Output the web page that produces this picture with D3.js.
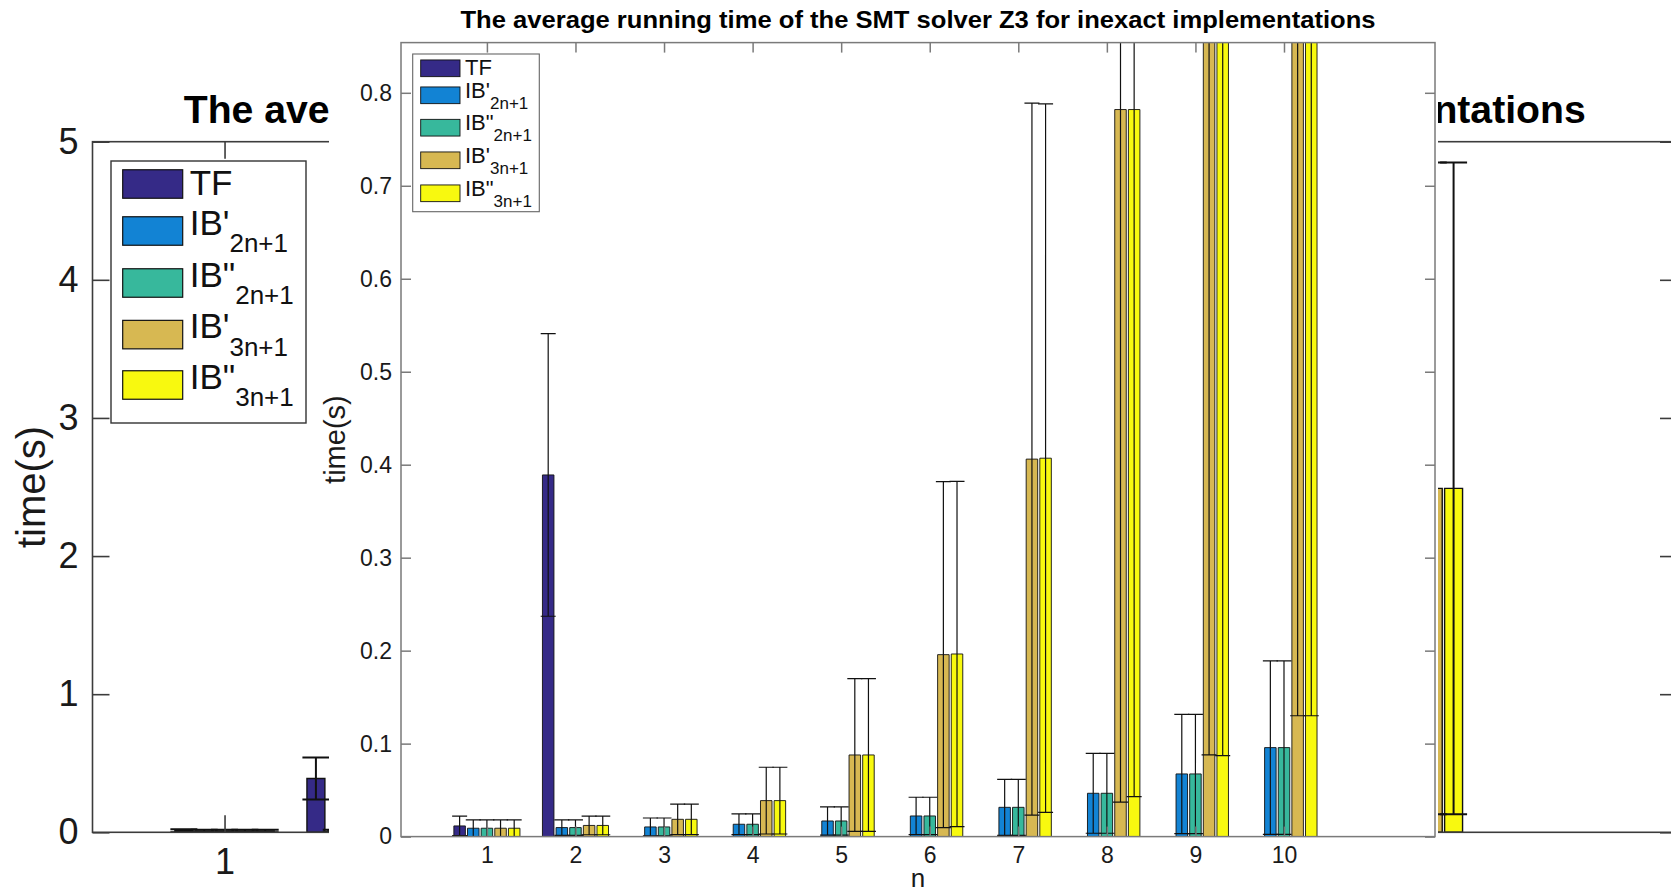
<!DOCTYPE html>
<html>
<head>
<meta charset="utf-8">
<script src="https://cdn.jsdelivr.net/npm/d3@7"></script>
<style>
  html, body { margin: 0; padding: 0; background: #ffffff; }
  svg { display: block; }
</style>
</head>
<body>
<svg id="fig" width="1671" height="892"></svg>
<script>
// ---- data -------------------------------------------------------------
const nValues = [1, 2, 3, 4, 5, 6, 7, 8, 9, 10];
const xTickLabels = ["1", "2", "3", "4", "5", "6", "7", "8", "9", "10"];

const legendMain = ["TF", "IB'", "IB\"", "IB'", "IB\""];
const legendSub  = ["", "2n+1", "2n+1", "3n+1", "3n+1"];
const seriesColors = ["#352a87", "#1283d4", "#37b89c", "#d7b852", "#f8f90f"];

// mean running time (s) and error (s) per n
const meanTF    = [0.0115, 0.389, 0, 0, 0, 0, 0, 0, 0, 0];
const errTF     = [0.0105, 0.152, 0, 0, 0, 0, 0, 0, 0, 0];
const meanIB1_2 = [0.009, 0.0097, 0.0104, 0.0133, 0.0168, 0.0222, 0.0315, 0.0466, 0.0674, 0.0957];
const errIB1_2  = [0.009, 0.0083, 0.0096, 0.0111, 0.0152, 0.0201, 0.0301, 0.0430, 0.0641, 0.0932];
const meanIB2_2 = [0.009, 0.0097, 0.0104, 0.0133, 0.0168, 0.0222, 0.0315, 0.0466, 0.0674, 0.0957];
const errIB2_2  = [0.009, 0.0083, 0.0096, 0.0111, 0.0152, 0.0201, 0.0301, 0.0430, 0.0641, 0.0932];
const meanIB1_3 = [0.009, 0.012, 0.0186, 0.0387, 0.0878, 0.1957, 0.406, 0.782, 1.45, 2.49];
const errIB1_3  = [0.009, 0.010, 0.0164, 0.0359, 0.0822, 0.1860, 0.383, 0.745, 1.362, 2.36];
const meanIB2_3 = [0.009, 0.012, 0.0186, 0.0387, 0.0878, 0.1964, 0.407, 0.782, 1.45, 2.49];
const errIB2_3  = [0.009, 0.010, 0.0164, 0.0359, 0.0822, 0.1856, 0.381, 0.739, 1.363, 2.36];

const seriesMeans = [meanTF, meanIB1_2, meanIB2_2, meanIB1_3, meanIB2_3];
const seriesErrs  = [errTF, errIB1_2, errIB2_2, errIB1_3, errIB2_3];

const titleText = "The average running time of the SMT solver Z3 for inexact implementations";
const yTicksFull = [0, 1, 2, 3, 4, 5];
const yTicksZoom = [0, 0.1, 0.2, 0.3, 0.4, 0.5, 0.6, 0.7, 0.8];

// ---- drawing ----------------------------------------------------------
const FONT = "'Liberation Sans', Arial, Helvetica, sans-serif";
const svg = d3.select("#fig");

// horizontal extent of the white sheet holding the zoomed panel
const sheet = { x0: 329, x1: 1438 };

function drawPanel(root, c) {
  const x = d3.scaleLinear().domain(c.xDomain).range([c.left, c.right]);
  const y = d3.scaleLinear().domain(c.yDomain).range([c.bottom, c.top]);
  const g = root.append("g");

  const clipId = "clip-" + c.id;
  g.append("clipPath").attr("id", clipId)
    .append("rect").attr("x", c.left).attr("y", c.top)
    .attr("width", c.right - c.left).attr("height", c.bottom - c.top);

  const plot = g.append("g").attr("clip-path", `url(#${clipId})`);
  const step = 0.154;          // offset between bars of one group (x units)
  const barW = c.barWidth;     // bar width (x units)

  // bars
  seriesMeans.forEach((means, s) => {
    const off = (s - 2) * step;
    plot.append("g").selectAll("path")
      .data(nValues.map((n, i) => ({ n, v: means[i] })))
      .join("path")
      .attr("d", d => {
        const x0 = x(d.n + off - barW / 2), x1 = x(d.n + off + barW / 2);
        const y0 = y(0), y1 = y(d.v);
        return `M${x0},${y0}H${x1}V${y1}H${x0}Z`;
      })
      .attr("fill", seriesColors[s])
      .attr("stroke", "#111")
      .attr("stroke-width", c.barStroke);
  });

  // error bars
  seriesMeans.forEach((means, s) => {
    const off = (s - 2) * step;
    const errs = seriesErrs[s];
    const eg = plot.append("g").attr("stroke", "#111").attr("stroke-width", c.errStroke).attr("fill", "none");
    eg.selectAll("path")
      .data(nValues.map((n, i) => ({ n, v: means[i], e: errs[i] })))
      .join("path")
      .attr("d", d => {
        const cx = x(d.n + off);
        const lo = y(d.v - d.e), hi = y(d.v + d.e);
        const h = c.capHalf;
        return `M${cx},${lo}V${hi}M${cx - h},${hi}H${cx + h}M${cx - h},${lo}H${cx + h}`;
      });
  });

  // axes box
  g.append("rect")
    .attr("x", c.left).attr("y", c.top)
    .attr("width", c.right - c.left).attr("height", c.bottom - c.top)
    .attr("fill", "none").attr("stroke", c.axisColor).attr("stroke-width", c.axisStroke);

  const styleAxis = sel => {
    sel.select(".domain").remove();
    sel.selectAll(".tick line").attr("stroke", c.axisColor).attr("stroke-width", c.axisStroke);
    sel.selectAll(".tick text").attr("fill", "#1a1a1a")
      .attr("font-family", FONT).attr("font-size", c.tickFont);
  };

  g.append("g").attr("transform", `translate(${c.left},0)`)
    .call(d3.axisLeft(y).tickValues(c.yTicks).tickSize(-c.tickLen).tickPadding(c.yPad).tickFormat(c.yFormat))
    .call(styleAxis);
  g.append("g").attr("transform", `translate(${c.right},0)`)
    .call(d3.axisRight(y).tickValues(c.yTicks).tickSize(-c.tickLen).tickFormat(""))
    .call(styleAxis);
  // bottom tick labels; labels that sit under the zoomed sheet are left blank
  g.append("g").attr("transform", `translate(0,${c.bottom})`)
    .call(d3.axisBottom(x).tickValues(nValues).tickSize(-c.tickLen).tickPadding(c.xPad)
      .tickFormat((d, i) => (c.hideUnderSheet && x(d) > sheet.x0 && x(d) < sheet.x1) ? "" : xTickLabels[i]))
    .call(styleAxis);
  g.append("g").attr("transform", `translate(0,${c.top})`)
    .call(d3.axisTop(x).tickValues(nValues).tickSize(-c.tickLen).tickFormat(""))
    .call(styleAxis);

  // title
  g.append("text")
    .attr("x", (c.left + c.right) / 2).attr("y", c.titleY)
    .attr("text-anchor", "middle")
    .attr("font-family", FONT).attr("font-weight", "bold")
    .attr("font-size", c.titleFont).attr("fill", "#000")
    .attr("textLength", c.titleLen).attr("lengthAdjust", "spacingAndGlyphs")
    .text(titleText);

  // y label
  g.append("text")
    .attr("transform", `translate(${c.yLabelX},${(c.top + c.bottom) / 2}) rotate(-90)`)
    .attr("text-anchor", "middle")
    .attr("font-family", FONT).attr("font-size", c.yLabelFont).attr("fill", "#1a1a1a")
    .text("time(s)");

  // x label
  if (c.xLabel) {
    g.append("text")
      .attr("x", (c.left + c.right) / 2).attr("y", c.xLabelY)
      .attr("text-anchor", "middle")
      .attr("font-family", FONT).attr("font-size", c.xLabelFont).attr("fill", "#1a1a1a")
      .text(c.xLabel);
  }

  // legend
  const L = c.legend;
  const lg = g.append("g");
  lg.append("rect").attr("x", L.x).attr("y", L.y).attr("width", L.w).attr("height", L.h)
    .attr("fill", "#fff").attr("stroke", L.border).attr("stroke-width", L.stroke);
  legendMain.forEach((label, s) => {
    const cy = L.centers[s];
    lg.append("rect")
      .attr("x", L.swX).attr("y", cy - L.swH / 2)
      .attr("width", L.swW).attr("height", L.swH)
      .attr("fill", seriesColors[s]).attr("stroke", "#111").attr("stroke-width", L.swStroke);
    const hasSub = legendSub[s] !== "";
    const base = cy + (hasSub ? 0.1 : 0.3) * L.font;
    const t = lg.append("text")
      .attr("x", L.textX).attr("y", base)
      .attr("font-family", FONT).attr("font-size", L.font).attr("fill", "#111");
    t.append("tspan").text(label);
    if (hasSub) {
      t.append("tspan").attr("dy", 0.5 * L.font).attr("font-size", L.subFont).text(legendSub[s]);
    }
  });
}

// full-range view, time axis 0..5 s
drawPanel(svg, {
  id: "full", hideUnderSheet: true,
  xDomain: [0, 12], yDomain: [0, 5],
  left: 92.5, right: 1677, top: 141.7, bottom: 832.3,
  barWidth: 0.136, capHalf: 13.5, barStroke: 1.4, errStroke: 2.0,
  axisColor: "#3c3c3c", axisStroke: 1.6, tickLen: 17,
  yTicks: yTicksFull, yFormat: d3.format("d"), yPad: 14, xPad: 16,
  tickFont: 36, yLabelFont: 40, titleFont: 38, titleLen: 1402, titleY: 123,
  yLabelX: 45,
  legend: {
    x: 111, y: 161, w: 195, h: 262, border: "#333", stroke: 1.4,
    swX: 122.7, swW: 60, swH: 28.5, swStroke: 1.2,
    centers: [184, 231, 283, 334.6, 385],
    textX: 189.7, font: 35, subFont: 26
  }
});

// zoomed view panel drawn on its own white sheet
svg.append("rect").attr("x", sheet.x0).attr("y", 0)
  .attr("width", sheet.x1 - sheet.x0).attr("height", 892).attr("fill", "#fff");

drawPanel(svg, {
  id: "zoom",
  xDomain: [0.03, 11.705], yDomain: [0, 0.854],
  left: 401, right: 1435, top: 42.6, bottom: 836.6,
  barWidth: 0.13, capHalf: 7.5, barStroke: 0.9, errStroke: 1.2,
  axisColor: "#7a7a7a", axisStroke: 1.5, tickLen: 10,
  yTicks: yTicksZoom, yFormat: d => d === 0 ? "0" : d3.format(".1f")(d), yPad: 9, xPad: 10,
  tickFont: 23, yLabelFont: 29, xLabelFont: 26, titleFont: 24, titleLen: 915, titleY: 28,
  yLabelX: 345, xLabel: "n", xLabelY: 887,
  legend: {
    x: 412.7, y: 54, w: 126.6, h: 157.7, border: "#666", stroke: 1.1,
    swX: 420.7, swW: 39.3, swH: 16.7, swStroke: 0.9,
    centers: [68.3, 95.3, 127.7, 160.3, 193.3],
    textX: 465, font: 22, subFont: 17
  }
});
</script>
</body>
</html>
